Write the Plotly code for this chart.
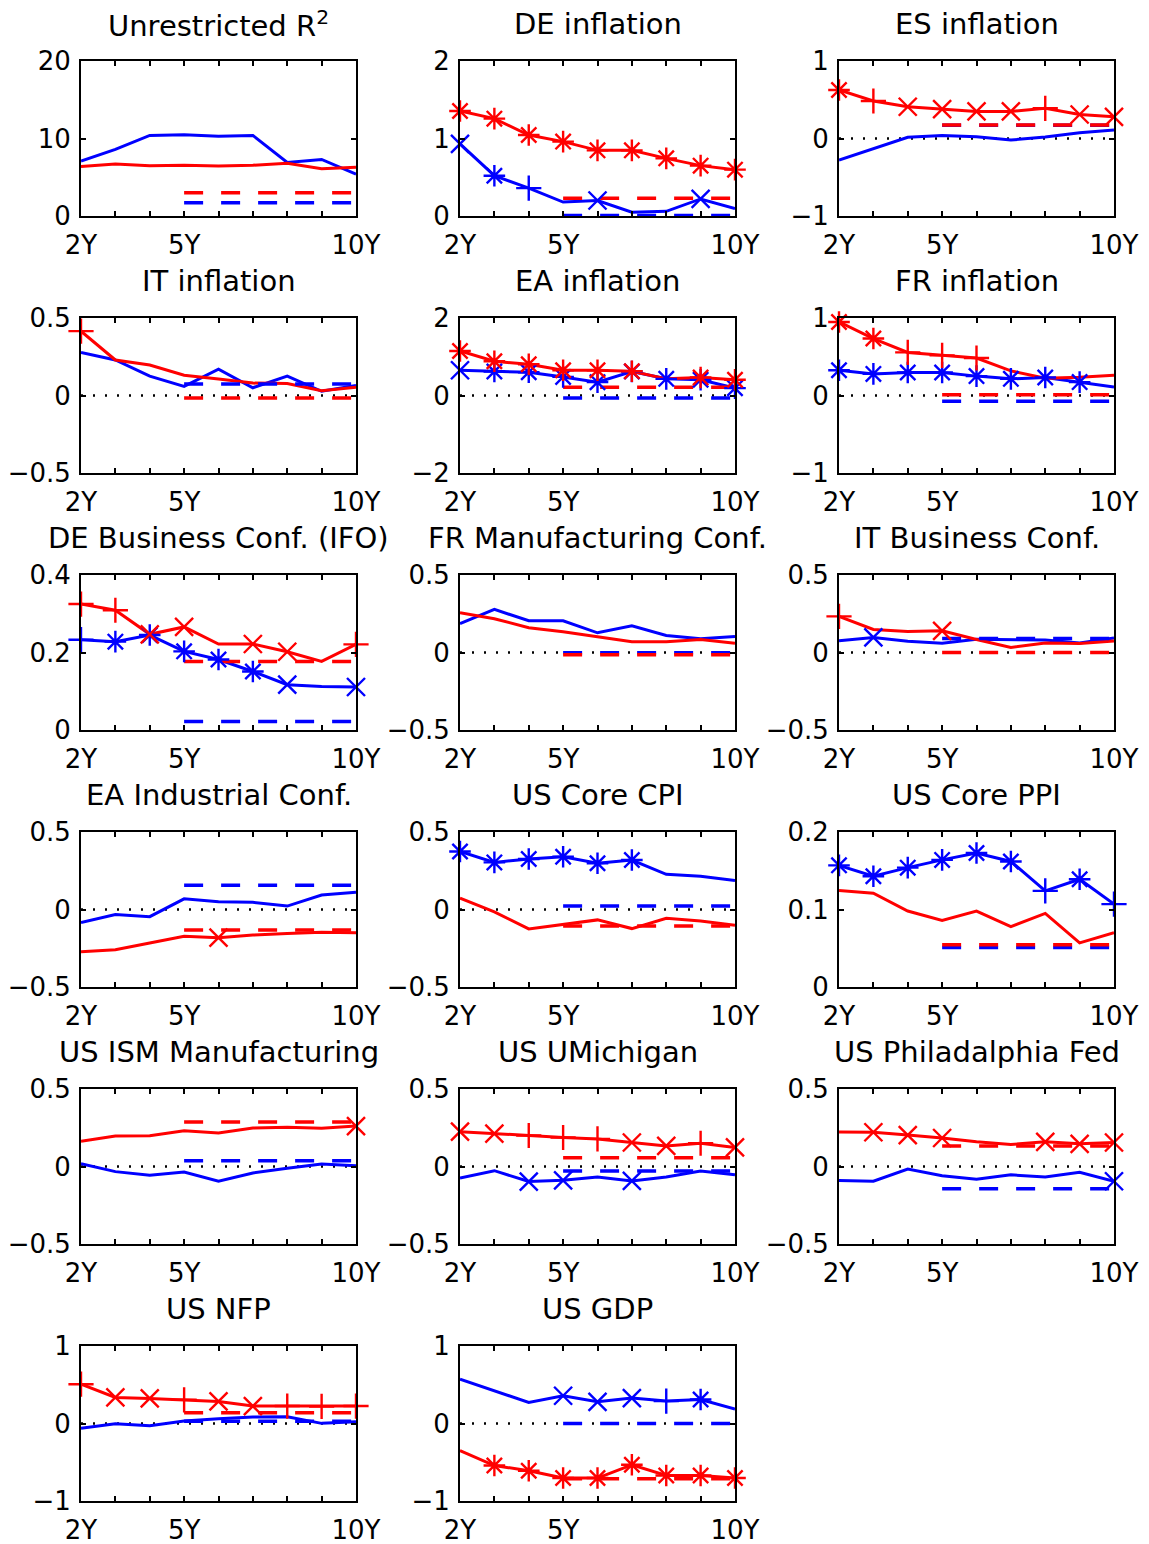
import plotly.graph_objects as go

# ---------------- data ----------------
MATURITIES = [2, 3, 4, 5, 6, 7, 8, 9, 10]
X_TICK_VALS = [2, 5, 10]
X_TICK_TEXT = ["2Y", "5Y", "10Y"]
DASH_FROM = 5
ZERO = 0

TITLES = ["Unrestricted R<sup>2</sup>", "DE inflation", "ES inflation",
          "IT inflation", "EA inflation", "FR inflation",
          "DE Business Conf. (IFO)", "FR Manufacturing Conf.", "IT Business Conf.",
          "EA Industrial Conf.", "US Core CPI", "US Core PPI",
          "US ISM Manufacturing", "US UMichigan", "US Philadalphia Fed",
          "US NFP", "US GDP"]

Y_TICKS = [[0, 10, 20], [0, 1, 2], [-1, 0, 1],
           [-0.5, 0, 0.5], [-2, 0, 2], [-1, 0, 1],
           [0, 0.2, 0.4], [-0.5, 0, 0.5], [-0.5, 0, 0.5],
           [-0.5, 0, 0.5], [-0.5, 0, 0.5], [0, 0.1, 0.2],
           [-0.5, 0, 0.5], [-0.5, 0, 0.5], [-0.5, 0, 0.5],
           [-1, 0, 1], [-1, 0, 1]]

# blue series (solid), red series (solid)
BLUE_R2 = [7.1, 8.6, 10.4, 10.5, 10.3, 10.4, 6.9, 7.3, 5.4]
RED_R2 = [6.4, 6.7, 6.5, 6.55, 6.45, 6.55, 6.8, 6.1, 6.3]
BLUE_DE_INF = [0.93, 0.52, 0.36, 0.18, 0.20, 0.05, 0.06, 0.22, 0.095]
RED_DE_INF = [1.355, 1.256, 1.045, 0.96, 0.847, 0.847, 0.744, 0.65, 0.598]
BLUE_ES_INF = [-0.277, -0.13, 0.015, 0.04, 0.024, -0.02, 0.02, 0.075, 0.11]
RED_ES_INF = [0.626, 0.484, 0.41, 0.38, 0.35, 0.35, 0.39, 0.31, 0.28]
BLUE_IT_INF = [0.278, 0.229, 0.125, 0.059, 0.17, 0.05, 0.125, 0.027, 0.065]
RED_IT_INF = [0.415, 0.229, 0.197, 0.131, 0.107, 0.08, 0.078, 0.031, 0.054]
BLUE_EA_INF = [0.652, 0.62, 0.6, 0.48, 0.345, 0.62, 0.43, 0.405, 0.19]
RED_EA_INF = [1.147, 0.883, 0.806, 0.652, 0.652, 0.627, 0.43, 0.465, 0.405]
BLUE_FR_INF = [0.326, 0.279, 0.296, 0.296, 0.25, 0.215, 0.232, 0.173, 0.109]
RED_FR_INF = [0.949, 0.735, 0.556, 0.518, 0.484, 0.318, 0.224, 0.237, 0.262]
BLUE_DE_IFO = [0.233, 0.228, 0.245, 0.203, 0.182, 0.151, 0.117, 0.112, 0.111]
RED_DE_IFO = [0.325, 0.309, 0.247, 0.266, 0.222, 0.222, 0.202, 0.177, 0.221]
BLUE_FR_MAN = [0.187, 0.278, 0.205, 0.205, 0.127, 0.172, 0.11, 0.088, 0.103]
RED_FR_MAN = [0.256, 0.218, 0.16, 0.134, 0.101, 0.069, 0.069, 0.084, 0.06]
BLUE_IT_BUS = [0.075, 0.097, 0.073, 0.06, 0.086, 0.082, 0.08, 0.062, 0.093]
RED_IT_BUS = [0.233, 0.149, 0.136, 0.14, 0.084, 0.032, 0.062, 0.058, 0.075]
BLUE_EA_IND = [-0.084, -0.033, -0.046, 0.069, 0.05, 0.046, 0.022, 0.093, 0.112]
RED_EA_IND = [-0.272, -0.259, -0.216, -0.172, -0.182, -0.165, -0.155, -0.146, -0.15]
BLUE_US_CPI = [0.374, 0.304, 0.326, 0.34, 0.298, 0.319, 0.227, 0.214, 0.187]
RED_US_CPI = [0.074, -0.016, -0.125, -0.097, -0.067, -0.123, -0.057, -0.074, -0.101]
BLUE_US_PPI = [0.157, 0.143, 0.154, 0.164, 0.173, 0.162, 0.124, 0.139, 0.107]
RED_US_PPI = [0.1245, 0.121, 0.098, 0.086, 0.098, 0.078, 0.095, 0.057, 0.07]
BLUE_US_ISM = [0.018, -0.033, -0.056, -0.035, -0.095, -0.042, -0.012, 0.016, 0.005]
RED_US_ISM = [0.163, 0.197, 0.199, 0.231, 0.216, 0.248, 0.254, 0.246, 0.261]
BLUE_US_UMICH = [-0.074, -0.027, -0.097, -0.089, -0.067, -0.093, -0.067, -0.029, -0.054]
RED_US_UMICH = [0.225, 0.212, 0.2, 0.187, 0.178, 0.155, 0.133, 0.15, 0.123]
BLUE_US_PHIL = [-0.09, -0.095, -0.016, -0.059, -0.082, -0.054, -0.067, -0.037, -0.095]
RED_US_PHIL = [0.223, 0.221, 0.203, 0.184, 0.159, 0.142, 0.159, 0.146, 0.155]
BLUE_US_NFP = [-0.062, -0.002, -0.028, 0.032, 0.062, 0.084, 0.088, 0.002, 0.024]
RED_US_NFP = [0.507, 0.336, 0.323, 0.306, 0.285, 0.225, 0.225, 0.22, 0.225]
BLUE_US_GDP = [0.572, 0.422, 0.272, 0.358, 0.28, 0.328, 0.289, 0.31, 0.186]
RED_US_GDP = [-0.349, -0.542, -0.61, -0.704, -0.704, -0.533, -0.67, -0.67, -0.704]

BLUE = [BLUE_R2, BLUE_DE_INF, BLUE_ES_INF, BLUE_IT_INF, BLUE_EA_INF, BLUE_FR_INF,
        BLUE_DE_IFO, BLUE_FR_MAN, BLUE_IT_BUS, BLUE_EA_IND, BLUE_US_CPI, BLUE_US_PPI,
        BLUE_US_ISM, BLUE_US_UMICH, BLUE_US_PHIL, BLUE_US_NFP, BLUE_US_GDP]
RED = [RED_R2, RED_DE_INF, RED_ES_INF, RED_IT_INF, RED_EA_INF, RED_FR_INF,
       RED_DE_IFO, RED_FR_MAN, RED_IT_BUS, RED_EA_IND, RED_US_CPI, RED_US_PPI,
       RED_US_ISM, RED_US_UMICH, RED_US_PHIL, RED_US_NFP, RED_US_GDP]

# significance markers per maturity ('.' = none, '*', '+', 'x')
BLUE_MARKS = [".........", "x*+.x..x.", ".........",
              ".........", "x********", "********.",
              "+*****x.x", ".........", ".x.......",
              ".........", "******...", "******+*+",
              ".........", "..xx.x...", "........x",
              ".........", "...xxx+*."]
RED_MARKS = [".........", "*********", "*+xxxx+xx",
             "+........", "******.**", "**+++....",
             "++xx.xx.+", ".........", "+..x.....",
             "....x....", ".........", ".........",
             "........x", "xx+++xx+x", ".xxx..xxx",
             "+xx+xx+++", ".********"]

# restricted (dashed) levels from 5Y to 10Y
BLUE_DASHED = [1.7, 0.005, 0.17, 0.074, -0.064, -0.075,
               0.022, -0.002, 0.09, 0.157, 0.022, 0.051,
               0.037, -0.029, -0.144, 0.028, 0.0]
RED_DASHED = [3.0, 0.228, 0.175, -0.016, 0.21, 0.01,
              0.177, -0.015, 0.0, -0.133, -0.106, 0.0546,
              0.287, 0.057, 0.133, 0.139, -0.713]

# ---------------- style / layout ----------------
W, H = 1149, 1544
COL_LEFT = [81, 460, 839]        # page pixels
PLOT_W = 275
ROW_TOP = [61, 318, 575, 832, 1089, 1346]
PLOT_H = 155
TITLE_GAP = 37
FONT = "DejaVu Sans, Verdana, sans-serif"
FS_TICK = 26
FS_TITLE = 29
C_BLUE = "#0000FF"
C_RED = "#FF0000"
SYMBOLS = {"*": "asterisk-open", "+": "cross-thin-open", "x": "x-thin-open"}


def fmt(v):
    return ("%g" % v).replace("-", "\u2212")


def px_x(px):
    return px / W


def px_y(py):
    return 1 - py / H


fig = go.Figure()
layout = {}
annotations = []

for i in range(len(TITLES)):
    r, c = divmod(i, 3)
    n = i + 1
    xa = "x" if n == 1 else f"x{n}"
    ya = "y" if n == 1 else f"y{n}"
    x0 = px_x(COL_LEFT[c])
    x1 = px_x(COL_LEFT[c] + PLOT_W)
    y1 = px_y(ROW_TOP[r])
    y0 = px_y(ROW_TOP[r] + PLOT_H)
    ticks = Y_TICKS[i]

    # zero reference line
    if ticks[0] < ZERO < ticks[-1]:
        fig.add_trace(go.Scatter(x=[MATURITIES[0], MATURITIES[-1]], y=[ZERO, ZERO],
                                 mode="lines", xaxis=xa, yaxis=ya,
                                 line=dict(color="black", width=2.5, dash="2px,10px"),
                                 showlegend=False, hoverinfo="skip"))

    dash_x = [m for m in MATURITIES if m >= DASH_FROM]
    fig.add_trace(go.Scatter(x=MATURITIES, y=BLUE[i], mode="lines", xaxis=xa, yaxis=ya,
                             line=dict(color=C_BLUE, width=3), showlegend=False))
    fig.add_trace(go.Scatter(x=MATURITIES, y=RED[i], mode="lines", xaxis=xa, yaxis=ya,
                             line=dict(color=C_RED, width=3), showlegend=False))
    fig.add_trace(go.Scatter(x=dash_x, y=[BLUE_DASHED[i]] * len(dash_x), mode="lines",
                             xaxis=xa, yaxis=ya,
                             line=dict(color=C_BLUE, width=3.5, dash="19px,18px"),
                             showlegend=False))
    fig.add_trace(go.Scatter(x=dash_x, y=[RED_DASHED[i]] * len(dash_x), mode="lines",
                             xaxis=xa, yaxis=ya,
                             line=dict(color=C_RED, width=3.5, dash="19px,18px"),
                             showlegend=False))

    for series, marks, col in ((BLUE[i], BLUE_MARKS[i], C_BLUE), (RED[i], RED_MARKS[i], C_RED)):
        idx = [k for k, ch in enumerate(marks) if ch != "."]
        if idx:
            fig.add_trace(go.Scatter(
                x=[MATURITIES[k] for k in idx], y=[series[k] for k in idx],
                mode="markers", xaxis=xa, yaxis=ya, showlegend=False, cliponaxis=False,
                marker=dict(symbol=[SYMBOLS[marks[k]] for k in idx], size=18,
                            color=col, line=dict(color=col, width=2.4))))

    axis_common = dict(ticks="inside", ticklen=5, tickwidth=1.5, tickcolor="black",
                       showline=True, linecolor="black", linewidth=2,
                       mirror="allticks", showgrid=False, zeroline=False,
                       automargin=False)
    layout["xaxis" if n == 1 else f"xaxis{n}"] = dict(
        domain=[x0, x1], anchor=ya, range=[MATURITIES[0], MATURITIES[-1]],
        tickvals=X_TICK_VALS, ticktext=X_TICK_TEXT,
        minor=dict(tickvals=MATURITIES, ticks="inside", ticklen=5, tickwidth=1.5,
                   tickcolor="black", showgrid=False),
        ticklabelstandoff=5, tickfont=dict(family=FONT, size=FS_TICK, color="black"),
        **axis_common)
    layout["yaxis" if n == 1 else f"yaxis{n}"] = dict(
        domain=[y0, y1], anchor=xa, range=[ticks[0], ticks[-1]],
        tickvals=ticks, ticktext=[fmt(t) for t in ticks],
        ticklabelstandoff=3, tickfont=dict(family=FONT, size=FS_TICK, color="black"),
        **axis_common)

    annotations.append(dict(text=TITLES[i], xref="paper", yref="paper",
                            x=(x0 + x1) / 2, y=px_y(ROW_TOP[r] - TITLE_GAP),
                            xanchor="center", yanchor="middle", showarrow=False,
                            font=dict(family=FONT, size=FS_TITLE, color="black")))

fig.update_layout(width=W, height=H, margin=dict(l=0, r=0, t=0, b=0, autoexpand=False),
                  paper_bgcolor="white", plot_bgcolor="white",
                  showlegend=False, annotations=annotations, **layout)

# place the figure at the very top-left of the page (no default body margin)
fig.write_html("out.html",
               config={"displayModeBar": False},
               post_script="document.body.style.margin='0px';"
                           "document.body.style.overflow='hidden';")
